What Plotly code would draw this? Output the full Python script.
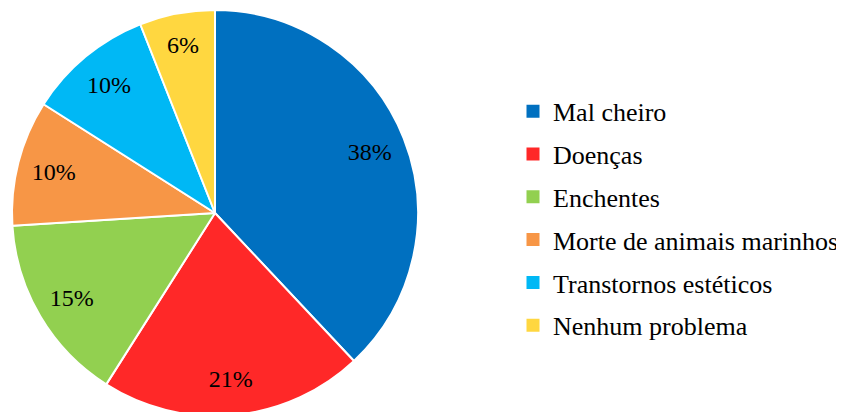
import plotly.graph_objects as go

categories = ["Mal cheiro", "Doenças", "Enchentes", "Morte de animais marinhos",
              "Transtornos estéticos", "Nenhum problema"]
values = [38, 21, 15, 10, 10, 6]
colors = ["#0070C0", "#FF2828", "#92D050", "#F79646", "#00B8F5", "#FFD740"]

FONT = "Liberation Serif, Times New Roman, serif"
W, H = 836, 412
mt, mb = 2, 4
R = (H - mt - mb) / 2
cx = 207
dom_x = [(cx - R) / W, (cx + R) / W]

fig = go.Figure()
# visible pie
fig.add_trace(go.Pie(
    labels=categories, values=values, sort=False, direction="clockwise", rotation=0,
    marker=dict(colors=colors, line=dict(color="white", width=2)),
    textinfo="none", hoverinfo="label+percent", showlegend=False,
    domain=dict(x=dom_x, y=[0, 1]),
))
# transparent ring carrying the percentage labels further out
fig.add_trace(go.Pie(
    labels=categories, values=values, sort=False, direction="clockwise", rotation=0,
    hole=0.64,
    marker=dict(colors=["rgba(0,0,0,0)"] * len(values), line=dict(width=0)),
    texttemplate="%{value}%", textposition="inside", insidetextorientation="horizontal",
    textfont=dict(family=FONT, size=24, color="black"),
    hoverinfo="skip", showlegend=False,
    domain=dict(x=dom_x, y=[0, 1]),
))

for i, (c, col) in enumerate(zip(categories, colors)):
    fig.add_trace(go.Scatter(
        x=[None], y=[None], mode="markers", name=c, legendgroup=f"g{i}",
        marker=dict(symbol="square", size=13, color=col),
    ))

fig.update_layout(
    width=W, height=H, margin=dict(l=0, r=0, t=mt, b=mb),
    paper_bgcolor="white", plot_bgcolor="white",
    xaxis=dict(visible=False), yaxis=dict(visible=False),
    legend=dict(x=1, xanchor="right", y=0.487, yanchor="middle",
                font=dict(family=FONT, size=26, color="black"),
                tracegroupgap=6, traceorder="grouped", bgcolor="rgba(0,0,0,0)"),
    uniformtext=dict(minsize=24, mode="show"),
    showlegend=True,
)

fig.write_html("out.html")
